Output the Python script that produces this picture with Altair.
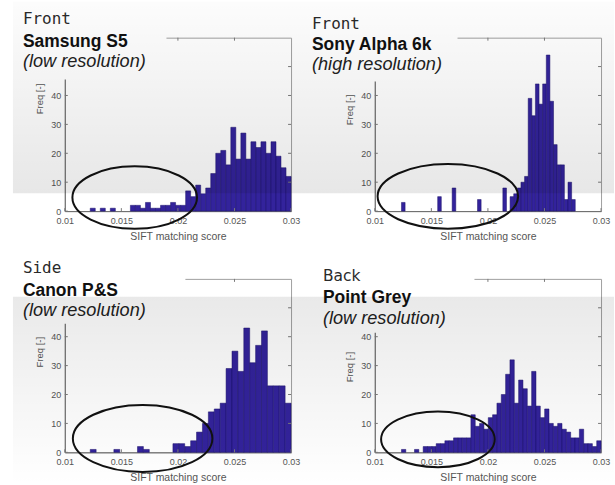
import altair as alt
import pandas as pd

# ---------------- data ----------------
views = ["Front", "Front", "Side", "Back"]
cameras = ["Samsung S5", "Sony Alpha 6k", "Canon P&S", "Point Grey"]
resolutions = ["(low resolution)", "(high resolution)", "(low resolution)", "(low resolution)"]

x_ticks = [0.01, 0.015, 0.02, 0.025, 0.03]
y_ticks = [0, 10, 20, 30, 40]
y_box_ticks = [10, 20, 30, 40, 50]
x_box_ticks = [0.015, 0.02, 0.025]

# histogram bin grid (left edge of first bin, bin width) per panel
bin_starts = [0.01225, 0.01236, 0.01225, 0.01236]
bin_widths = [0.00044375, 0.00032, 0.000522, 0.0003835]

counts_samsung = [1, 0, 1, 0, 1, 0, 0, 0, 2, 2, 1, 3, 1, 1, 2, 2, 3, 2, 2,
                  7, 5, 9, 6, 8, 13, 20, 21, 16, 29, 18, 27, 18, 24, 22, 24, 20, 24, 19, 15, 12]
counts_sony = [3, 0, 0, 0, 0, 0, 0, 0, 0, 0, 5, 0, 0, 0, 8, 0, 0, 0, 0, 0, 0, 4, 0, 0, 0, 0, 0, 0, 8, 0,
               5, 6, 8, 10, 12, 39, 33, 44, 37, 44, 54, 38, 23, 16, 16, 4, 10, 4]
counts_canon = [1, 0, 0, 0, 1, 0, 0, 0, 2, 1, 0, 0, 0, 0,
                3, 3, 2, 4, 7, 10, 14, 15, 17, 29, 35, 28, 43, 31, 37, 42, 23, 23, 23, 17]
counts_pointgrey = [1, 0, 0, 1, 0, 2, 2, 2, 3, 3, 4, 4, 5, 5, 5, 5, 13, 9, 10, 8, 12, 13, 17, 20, 27, 32,
                    17, 25, 22, 16, 28, 16, 12, 15, 10, 9, 10, 8, 7, 5, 5, 8, 3, 3, 2, 4]
all_counts = [counts_samsung, counts_sony, counts_canon, counts_pointgrey]

# annotation ellipses: centre in data units
ellipse_score = [0.01618, 0.01646, 0.01688, 0.01558]
ellipse_freq = [4.7, 5.1, 4.8, 4.5]

# ---------------- styling / layout ----------------
W, H = 227, 174
BAR_FILL = "#33239c"
BAR_EDGE = "#1b116a"
SANS = "Liberation Sans"
TICK = "#7a7a7a"

# per panel: ellipse (width px, height/width ratio)
ell_style = [(125, 0.50), (141, 0.46), (140, 0.48), (114, 0.49)]
# per panel: cover box (x0, x1, y0, y1) hiding the upper-left of the axes
cover_box = [(-50, 102, -36, 42), (-67, 83, -36, 44), (-50, 121, -30, 45), (-67, 100, -30, 54)]
# per panel: text x and baselines of the 3 title lines
text_pos = [(-42, -14, 9, 29.5), (-63, -9, 12.5, 32.5), (-42, -6, 17, 37), (-52, 2, 24, 45)]
# per panel: y-axis title vertical centre
ytitle_y = [61, 72, 73, 88]
# grey overlay bands (x0, x1, y0, y1, top alpha, bottom alpha)
bands = [(-52, 244, -36, 156, 0.01, 0.095), (-67, 240, -36, 156, 0.01, 0.095),
         (-52, 244, 18, 207, 0.085, 0.0), (-67, 240, 18, 207, 0.085, 0.0)]

one = pd.DataFrame({"k": [0]})


def panel(i):
    counts = all_counts[i]
    lo = [bin_starts[i] + k * bin_widths[i] for k in range(len(counts))]
    hi = [v + bin_widths[i] for v in lo]
    df = pd.DataFrame({"lo": lo, "hi": hi, "n": counts, "base": [0] * len(counts)})
    df = df[df["n"] > 0]

    xs = alt.Scale(domain=[0.01, 0.03], nice=False, zero=False)
    ys = alt.Scale(domain=[0, 60], nice=False)
    xaxis = alt.Axis(values=x_ticks, format="~g", title="SIFT matching score",
                     labelFlush=False, labelOverlap=False, grid=False, ticks=False,
                     labelPadding=5, titlePadding=6, titleFontSize=10.5)
    yaxis = alt.Axis(values=y_ticks, title="Freq [-]", grid=False, ticks=False,
                     labelOverlap=False, labelPadding=4, titlePadding=6, titleFontSize=9.5,
                     titleY=ytitle_y[i])
    X = lambda f: alt.X(f, scale=xs, axis=xaxis)
    Y = lambda f: alt.Y(f, scale=ys, axis=yaxis)

    bars = alt.Chart(df).mark_rect(fill=BAR_FILL, stroke=BAR_EDGE, strokeWidth=0.5).encode(
        x=X("lo:Q"), x2="hi:Q", y=Y("n:Q"), y2="base:Q")

    # inward box ticks (MATLAB style): left + right, bottom + top
    yt = pd.DataFrame({"n": y_ticks})
    ybt = pd.DataFrame({"n": y_box_ticks})
    xt = pd.DataFrame({"lo": x_ticks})
    xbt = pd.DataFrame({"lo": x_box_ticks})
    t_left = alt.Chart(yt).mark_rule(color=TICK, strokeWidth=1).encode(
        y=Y("n:Q"), x=alt.value(0), x2=alt.value(3))
    t_right = alt.Chart(ybt).mark_rule(color=TICK, strokeWidth=1).encode(
        y=Y("n:Q"), x=alt.value(W - 3), x2=alt.value(W))
    t_bottom = alt.Chart(xt).mark_rule(color=TICK, strokeWidth=1).encode(
        x=X("lo:Q"), y=alt.value(H - 3), y2=alt.value(H))
    t_top = alt.Chart(xbt).mark_rule(color=TICK, strokeWidth=1).encode(
        x=X("lo:Q"), y=alt.value(0), y2=alt.value(3))

    w, r = ell_style[i]
    path = f"M-1,0A1,{r} 0 1,0 1,0A1,{r} 0 1,0 -1,0Z"
    edf = pd.DataFrame({"lo": [ellipse_score[i]], "n": [ellipse_freq[i]]})
    ell = alt.Chart(edf).mark_point(shape=path, size=w * w, filled=False, color="#111111",
                                    strokeWidth=2, opacity=1).encode(x=X("lo:Q"), y=Y("n:Q"))

    cx0, cx1, cy0, cy1 = cover_box[i]
    cover = alt.Chart(one).mark_rect(fill="white").encode(
        x=alt.value(cx0), x2=alt.value(cx1), y=alt.value(cy0), y2=alt.value(cy1))

    tx, b1, b2, b3 = text_pos[i]
    if views[i] == "Back":
        t1 = alt.Chart(one).mark_text(text=views[i], font="DejaVu Sans", fontSize=15.5,
                                      align="left", baseline="alphabetic", color="#2a2a2a")
    else:
        t1 = alt.Chart(one).mark_text(text=views[i], font="DejaVu Sans Mono", fontSize=16,
                                      align="left", baseline="alphabetic", color="#2a2a2a")
    t1 = t1.encode(x=alt.value(tx), y=alt.value(b1))
    t2 = alt.Chart(one).mark_text(text=cameras[i], font=SANS, fontSize=17.5, fontWeight="bold",
                                  align="left", baseline="alphabetic", color="#111111").encode(
        x=alt.value(tx), y=alt.value(b2))
    t3 = alt.Chart(one).mark_text(text=resolutions[i], font=SANS, fontSize=18.2, fontStyle="italic",
                                  align="left", baseline="alphabetic", color="#222222").encode(
        x=alt.value(tx), y=alt.value(b3))

    bx0, bx1, by0, by1, a0, a1 = bands[i]
    grad = alt.LinearGradient(
        gradient="linear",
        stops=[alt.GradientStop(color=f"rgba(0,0,0,{a0})", offset=0),
               alt.GradientStop(color=f"rgba(0,0,0,{a1})", offset=1)],
        x1=0, x2=0, y1=0, y2=1)
    band = alt.Chart(one).mark_rect(fill=grad).encode(
        x=alt.value(bx0), x2=alt.value(bx1), y=alt.value(by0), y2=alt.value(by1))

    return alt.layer(bars, t_left, t_right, t_bottom, t_top, ell, cover, t1, t2, t3, band).properties(
        width=W, height=H)


chart = alt.concat(
    panel(0), panel(1), panel(2), panel(3),
    columns=2, spacing={"row": 68, "column": 84}, bounds="flush",
).properties(
    padding={"left": 12, "top": 0, "right": 0, "bottom": 0},
    background="white",
).configure_view(
    stroke="#a0a0a0", strokeWidth=1
).configure_axis(
    domainColor="#6a6a6a", labelColor="#555555", titleColor="#555555",
    labelFont=SANS, titleFont=SANS, labelFontSize=9, titleFontWeight="normal",
)

chart.save("out.html", embed_options={"renderer": "svg", "actions": False})
